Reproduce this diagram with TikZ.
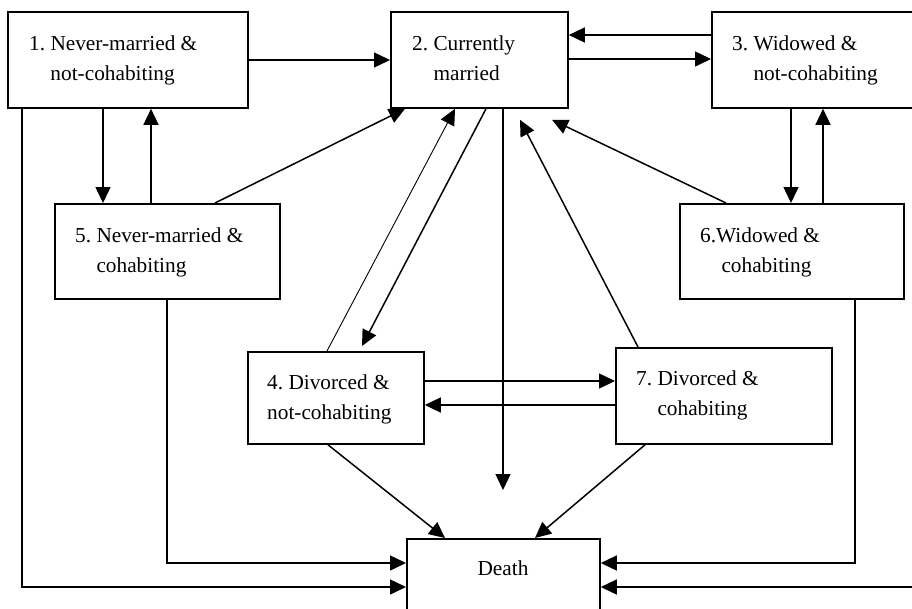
\documentclass[tikz,border=0pt]{standalone}
\usepackage{fontspec}
\setmainfont{Liberation Serif}
\frenchspacing
\usetikzlibrary{arrows.meta}
\tikzset{
  box/.style={draw, line width=1.8pt, rectangle, anchor=north west, inner sep=0pt},
  lbl/.style={anchor=base west, inner sep=0pt, font=\fontsize{21.3}{30}\selectfont},
  arr/.style={line width=1.5pt, -{Triangle[length=16pt,width=15pt]}},
  thinarr/.style={line width=0.9pt, -{Triangle[length=16pt,width=15pt]}},
  ln/.style={line width=1.5pt}
}
\newcommand{\twoline}[2]{\begin{tabular}[t]{@{}l@{}}#1\\#2\end{tabular}}
\begin{document}
\begin{tikzpicture}[x=1pt,y=-1pt]
\useasboundingbox (0,0) rectangle (912,608);
% boxes
\node[box, minimum width=240pt, minimum height=96pt] (b1) at (7,11) {};
\node[box, minimum width=177pt, minimum height=96pt] (b2) at (390,11) {};
\node[box, minimum width=230pt, minimum height=96pt] (b3) at (711,11) {};
\node[box, minimum width=225pt, minimum height=95pt] (b5) at (54,203) {};
\node[box, minimum width=224pt, minimum height=95pt] (b6) at (679,203) {};
\node[box, minimum width=176pt, minimum height=92pt] (b4) at (247,351) {};
\node[box, minimum width=216pt, minimum height=96pt] (b7) at (615,347) {};
\node[box, minimum width=193pt, minimum height=90pt] (d) at (406,538) {};
% labels
\node[lbl] (t1) at (29,50) {\twoline{1. Never-married \&}{\phantom{1. }not-cohabiting}};
\node[lbl] (t2) at (412,50) {\twoline{2. Currently}{\phantom{2. }married}};
\node[lbl] (t3) at (732,50) {\twoline{3. Widowed \&}{\phantom{3. }not-cohabiting}};
\node[lbl] (t5) at (75,242) {\twoline{5. Never-married \&}{\phantom{5. }cohabiting}};
\node[lbl] (t6) at (700,242) {\twoline{6.Widowed \&}{\phantom{6. }cohabiting}};
\node[lbl] (t4) at (267,389) {\twoline{4. Divorced \&}{not-cohabiting}};
\node[lbl] (t7) at (636,385) {\twoline{7. Divorced \&}{\phantom{7. }cohabiting}};
\node[lbl, anchor=base] (td) at (503,575) {Death};
% free ends
\coordinate (dstop) at (503,490);
\coordinate (redge) at (912,587);
% connectors
\draw[arr] (b1.east |- 0,60) -- (b2.west |- 0,60);
\draw[arr] (b3.west |- 0,35) -- (b2.east |- 0,35);
\draw[arr] (b2.east |- 0,59) -- (b3.west |- 0,59);
\draw[arr] (103,0 |- b1.south) -- (103,0 |- b5.north);
\draw[arr] (151,0 |- b5.north) -- (151,0 |- b1.south);
\draw[arr] ([xshift=161pt]b5.north west) -- ([xshift=15pt]b2.south west);
\draw[thinarr] ([xshift=80pt]b4.north west) -- ([xshift=65pt]b2.south west);
\draw[arr] ([xshift=96pt]b2.south west) -- ([xshift=115pt,yshift=5pt]b4.north west);
\draw[arr] (503,0 |- b2.south) -- (dstop);
\draw[arr] ([xshift=23pt]b7.north west) -- ([xshift=130pt,yshift=-11pt]b2.south west);
\draw[arr] ([xshift=47pt]b6.north west) -- ([xshift=162pt,yshift=-11pt]b2.south west);
\draw[arr] (791,0 |- b3.south) -- (791,0 |- b6.north);
\draw[arr] (823,0 |- b6.north) -- (823,0 |- b3.south);
\draw[arr] (b4.east |- 0,381) -- (b7.west |- 0,381);
\draw[arr] (b7.west |- 0,405) -- (b4.east |- 0,405);
\draw[arr] ([xshift=81pt]b4.south west) -- ([xshift=39pt]d.north west);
\draw[arr] ([xshift=30pt]b7.south west) -- ([xshift=129pt]d.north west);
\draw[arr] (167,0 |- b5.south) |- (d.west |- 0,563);
\draw[arr] (22,0 |- b1.south) |- (d.west |- 0,587);
\draw[arr] (855,0 |- b6.south) |- (d.east |- 0,563);
\draw[arr] (redge) -- (d.east |- 0,587);
\end{tikzpicture}
\end{document}
